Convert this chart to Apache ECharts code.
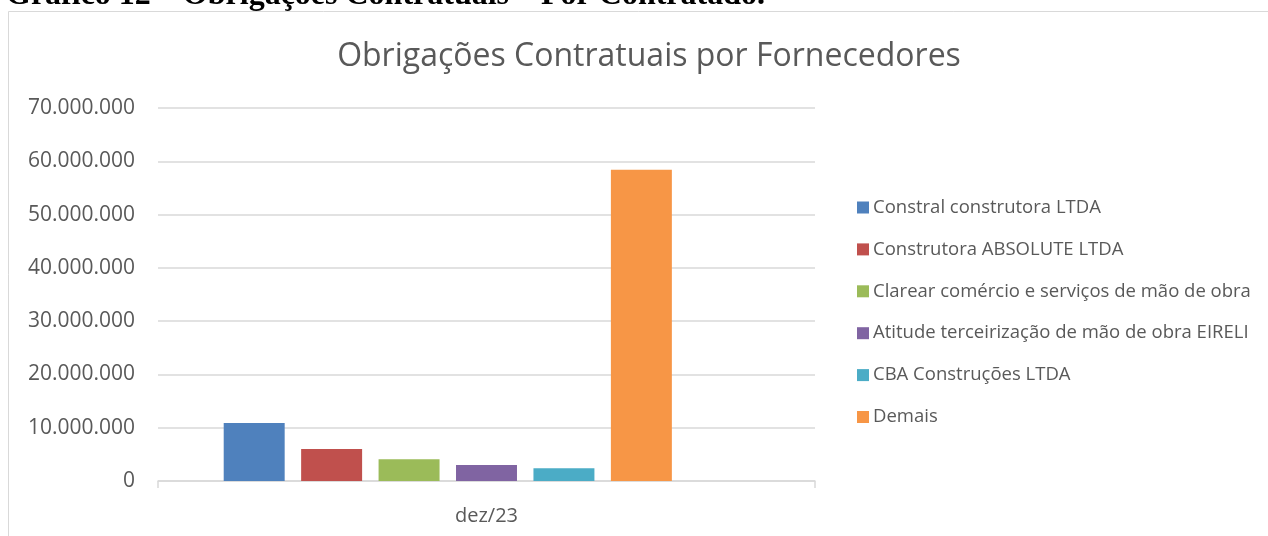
<!DOCTYPE html>
<html>
<head>
<meta charset="utf-8">
<script src="https://cdn.jsdelivr.net/npm/echarts@6/dist/echarts.min.js"></script>
<style>
  html, body { margin: 0; padding: 0; background: #fff; }
  #chart { width: 1268px; height: 536px; }
</style>
</head>
<body>
<div id="chart"></div>
<script>
// dados
var categories = ['dez/23'];
var supplierNames = [
  'Constral construtora LTDA',
  'Construtora ABSOLUTE LTDA',
  'Clarear comércio e serviços de mão de obra',
  'Atitude terceirização de mão de obra EIRELI',
  'CBA Construções LTDA',
  'Demais'
];
var supplierValues = [10900000, 6000000, 4100000, 3000000, 2400000, 58400000];
var supplierColors = ['#4f81bd', '#c0504d', '#9bbb59', '#8064a2', '#4bacc6', '#f79646'];
var yTicks = [0, 10000000, 20000000, 30000000, 40000000, 50000000, 60000000, 70000000];

var textGray = '#595959';
var lineGray = '#d9d9d9';
var font = "'Open Sans', 'Noto Sans', sans-serif";

function fmt(v) {
  return String(v).replace(/\B(?=(\d{3})+(?!\d))/g, '.');
}

var series = supplierNames.map(function (name, i) {
  return {
    name: name,
    type: 'bar',
    barGap: '27%',
    barCategoryGap: '20%',
    itemStyle: { color: supplierColors[i] },
    data: [supplierValues[i]]
  };
});
// serie vazia (como no original, deixa o grupo deslocado)
series.push({ name: '', type: 'bar', data: [null] });

var chart = echarts.init(document.getElementById('chart'));
chart.setOption({
  animation: false,
  backgroundColor: '#fff',
  title: {
    text: 'Obrigações Contratuais por Fornecedores',
    left: 644,
    textAlign: 'center',
    top: 36,
    textStyle: { fontFamily: font, fontWeight: 'normal', fontSize: 32, color: textGray }
  },
  graphic: [
    {
      type: 'rect',
      shape: { x: 8.5, y: 11.5, width: 1300, height: 600 },
      style: { fill: null, stroke: lineGray, lineWidth: 1 },
      silent: true
    },
    {
      type: 'text',
      left: 6,
      top: -20,
      style: {
        text: 'Gráfico 12 – Obrigações Contratuais – Por Contratado.',
        font: "bold 32px 'Liberation Serif', 'Times New Roman', serif",
        fill: '#000'
      }
    }
  ],
  legend: {
    orient: 'vertical',
    left: 857,
    top: 197,
    padding: 0,
    itemWidth: 12,
    itemHeight: 12,
    itemGap: 20.9,
    icon: 'rect',
    data: supplierNames,
    textStyle: { fontFamily: font, fontSize: 18.5, color: textGray, lineHeight: 21, padding: [0, 0, 0, -1] }
  },
  grid: { left: 158, right: 453, top: 108, bottom: 55 },
  xAxis: {
    type: 'category',
    data: categories,
    axisLine: { lineStyle: { color: lineGray, width: 1.5 } },
    axisTick: { show: true, length: 7, lineStyle: { color: lineGray, width: 1.5 } },
    axisLabel: { fontFamily: font, fontSize: 20, color: textGray, margin: 25 }
  },
  yAxis: {
    type: 'value',
    min: 0,
    max: 70000000,
    interval: 10000000,
    axisLine: { show: false },
    axisTick: { show: false },
    splitLine: { lineStyle: { color: lineGray, width: 1.5 } },
    axisLabel: {
      fontFamily: font, fontSize: 21, color: textGray, margin: 23,
      formatter: function (v) { return yTicks.indexOf(v) >= 0 ? fmt(v) : ''; }
    }
  },
  series: series
});
</script>
</body>
</html>
